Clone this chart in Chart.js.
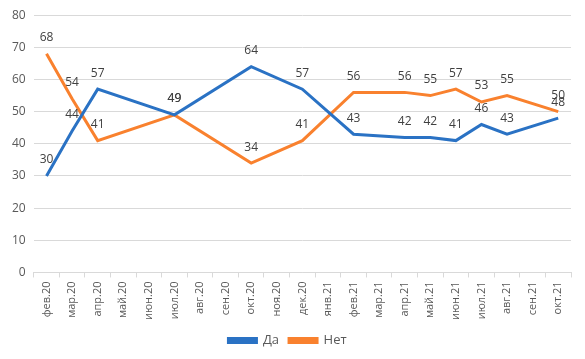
<!DOCTYPE html>
<html>
<head>
<meta charset="utf-8">
<script src="https://cdn.jsdelivr.net/npm/chart.js@4"></script>
<style>
  html, body { margin: 0; padding: 0; background: #fff; }
  #wrap { width: 585px; height: 359px; }
</style>
</head>
<body>
<div id="wrap"><canvas id="chart" width="585" height="359"></canvas></div>
<script>
const months = ['фев.20', 'мар.20', 'апр.20', 'май.20', 'июн.20', 'июл.20', 'авг.20', 'сен.20',
  'окт.20', 'ноя.20', 'дек.20', 'янв.21', 'фев.21', 'мар.21', 'апр.21', 'май.21', 'июн.21',
  'июл.21', 'авг.21', 'сен.21', 'окт.21'];
const yesValues = [30, 44, 57, null, null, 49, null, null, 64, null, 57, null, 43, null, 42, 42, 41, 46, 43, null, 48];
const noValues = [68, 54, 41, null, null, 49, null, null, 34, null, 41, null, 56, null, 56, 55, 57, 53, 55, null, 50];

const blue = '#2A72C4';
const orange = '#F9812E';
const font = "'Open Sans', 'Noto Sans', sans-serif";

// value labels above each point
const pointLabels = {
  id: 'pointLabels',
  afterDatasetsDraw(chart) {
    const ctx = chart.ctx;
    ctx.save();
    ctx.font = '12px ' + font;
    ctx.fillStyle = '#404040';
    ctx.textAlign = 'center';
    ctx.textBaseline = 'middle';
    chart.data.datasets.forEach((ds, i) => {
      chart.getDatasetMeta(i).data.forEach((pt, j) => {
        const v = ds.data[j];
        if (v === null) return;
        ctx.fillText(String(v), pt.x, pt.y - 16);
      });
    });
    ctx.restore();
  }
};

new Chart(document.getElementById('chart'), {
  type: 'line',
  data: {
    labels: months,
    datasets: [
      { label: 'Да', data: yesValues, borderColor: blue, backgroundColor: blue, borderWidth: 3, pointRadius: 0, spanGaps: true, tension: 0 },
      { label: 'Нет', data: noValues, borderColor: orange, backgroundColor: orange, borderWidth: 3, pointRadius: 0, spanGaps: true, tension: 0 }
    ]
  },
  options: {
    responsive: false,
    animation: false,
    layout: { padding: { top: 10, right: 14, left: 4, bottom: 2 } },
    plugins: {
      legend: {
        position: 'bottom',
        labels: { boxWidth: 28, boxHeight: 4, padding: 10, color: '#595959', font: { family: font, size: 13 } }
      },
      tooltip: { enabled: false }
    },
    scales: {
      x: {
        offset: true,
        grid: { offset: true, drawOnChartArea: false, tickLength: 5, color: '#d9d9d9' },
        border: { color: '#d9d9d9' },
        ticks: { minRotation: 90, maxRotation: 90, autoSkip: false, color: '#595959', font: { family: font, size: 11 }, padding: 4 }
      },
      y: {
        min: 0,
        max: 80,
        ticks: { stepSize: 10, color: '#595959', font: { family: font, size: 12 }, padding: 8 },
        grid: { color: '#d9d9d9', drawTicks: false },
        border: { display: false }
      }
    }
  },
  plugins: [pointLabels]
});
</script>
</body>
</html>
